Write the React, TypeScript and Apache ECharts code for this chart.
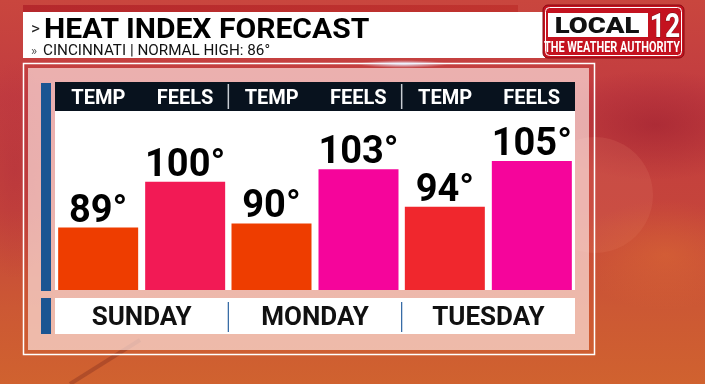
import React, { useEffect, useRef } from 'react';
import * as echarts from 'echarts';

// ---- data ----
const days = ['SUNDAY', 'MONDAY', 'TUESDAY'];
const seriesNames = ['TEMP', 'FEELS'];
const temps = [89, 90, 94];
const feels = [100, 103, 105];
const titleText = 'HEAT INDEX FORECAST';
const subtitleText = 'CINCINNATI | NORMAL HIGH: 86°';
const logoWord = 'LOCAL';
const logoNumber = '12';
const logoTagline = 'THE WEATHER AUTHORITY';
const yMin = 74;
const yMax = 117;

function heatColor(v: number): string {
  if (v < 92) return '#ee3d00';
  if (v < 98) return '#f0272d';
  if (v < 102) return '#f21a55';
  return '#f5059b';
}

// ---- layout ----
const W = 705;
const H = 384;
const GL = 55;
const GW = 520;
const FONT = 'Roboto, "DejaVu Sans", sans-serif';

function buildOption(): any {
  const headerLabels = days.flatMap(() => seriesNames);
  const LG = echarts.graphic.LinearGradient;
  const RG = echarts.graphic.RadialGradient;

  const barLabel = {
    show: true,
    position: 'top',
    distance: 0,
    formatter: '{c}°',
    fontSize: 38,
    fontWeight: 'bold',
    fontFamily: FONT,
    color: '#000',
  };

  const dividerXs = [1, 2].map((k) => GL + (GW * k) / 3);

  const graphics: any[] = [
    // background
    {
      type: 'rect', z: 0, silent: true,
      shape: { x: 0, y: 0, width: W, height: H },
      style: {
        fill: new LG(0, 0, 0, 1, [
          { offset: 0, color: '#c9463e' },
          { offset: 0.25, color: '#c23c40' },
          { offset: 0.55, color: '#c5443b' },
          { offset: 0.8, color: '#cc5834' },
          { offset: 1, color: '#d0622f' },
        ]),
      },
    },
    {
      type: 'ellipse', z: 0, silent: true,
      shape: { cx: 655, cy: 125, rx: 120, ry: 55 },
      style: { fill: new RG(0.5, 0.5, 0.5, [
        { offset: 0, color: 'rgba(150,25,45,0.5)' },
        { offset: 1, color: 'rgba(150,25,45,0)' },
      ]) },
    },
    {
      type: 'circle', z: 0, silent: true,
      shape: { cx: 595, cy: 195, r: 58 },
      style: { fill: 'rgba(228,125,105,0.18)' },
    },
    {
      type: 'ellipse', z: 0, silent: true,
      shape: { cx: 665, cy: 255, rx: 90, ry: 55 },
      style: { fill: new RG(0.5, 0.5, 0.5, [
        { offset: 0, color: 'rgba(225,115,50,0.4)' },
        { offset: 1, color: 'rgba(225,115,50,0)' },
      ]) },
    },
    {
      type: 'ellipse', z: 0, silent: true,
      shape: { cx: 15, cy: 170, rx: 40, ry: 110 },
      style: { fill: new RG(0.5, 0.5, 0.5, [
        { offset: 0, color: 'rgba(170,40,60,0.35)' },
        { offset: 1, color: 'rgba(170,40,60,0)' },
      ]) },
    },
    {
      type: 'line', z: 0, silent: true,
      shape: { x1: 70, y1: 384, x2: 140, y2: 340 },
      style: { stroke: 'rgba(120,40,30,0.35)', lineWidth: 4 },
    },
    // title strip + bar
    {
      type: 'rect', z: 1, silent: true,
      shape: { x: 23, y: 5, width: 495, height: 7 },
      style: { fill: new LG(0, 0, 1, 0, [
        { offset: 0, color: '#b5282c' },
        { offset: 1, color: '#c0342f' },
      ]) },
    },
    {
      type: 'rect', z: 1, silent: true,
      shape: { x: 23, y: 12, width: 522, height: 46 },
      style: { fill: '#ffffff' },
    },
    {
      type: 'text', z: 2, silent: true, x: 31, y: 28,
      style: { text: '>', fontSize: 17, fontWeight: 'normal', fontFamily: FONT, fill: '#222',
        align: 'left', verticalAlign: 'middle', textAlign: 'left', textVerticalAlign: 'middle' },
    },
    {
      type: 'text', z: 2, silent: true, x: 44, y: 28, scaleX: 1.075,
      style: { text: titleText, fontSize: 28, fontWeight: 'bold', fontFamily: FONT, fill: '#000',
        align: 'left', verticalAlign: 'middle', textAlign: 'left', textVerticalAlign: 'middle' },
    },
    {
      type: 'text', z: 2, silent: true, x: 31, y: 50.5,
      style: { text: '»', fontSize: 13, fontFamily: FONT, fill: '#555',
        align: 'left', verticalAlign: 'middle', textAlign: 'left', textVerticalAlign: 'middle' },
    },
    {
      type: 'text', z: 2, silent: true, x: 43, y: 50.5, scaleX: 1.09,
      style: { text: subtitleText, fontSize: 14, fontFamily: FONT, fill: '#111',
        align: 'left', verticalAlign: 'middle', textAlign: 'left', textVerticalAlign: 'middle' },
    },
    // logo
    {
      type: 'rect', z: 2, silent: true,
      shape: { x: 543, y: 5, width: 141, height: 53, r: 5 },
      style: { fill: '#c4121f', stroke: '#8a0a12', lineWidth: 1 },
    },
    {
      type: 'rect', z: 2, silent: true,
      shape: { x: 545.5, y: 7.5, width: 136, height: 48, r: 4 },
      style: { fill: 'none', stroke: '#ffffff', lineWidth: 1 },
    },
    {
      type: 'rect', z: 2, silent: true,
      shape: { x: 548, y: 13, width: 100, height: 24 },
      style: { fill: '#ffffff' },
    },
    {
      type: 'text', z: 3, silent: true, x: 597, y: 25.5, scaleX: 1.25,
      style: { text: logoWord, fontSize: 22, fontWeight: 900, fontFamily: FONT, fill: '#111',
        align: 'center', verticalAlign: 'middle', textAlign: 'center', textVerticalAlign: 'middle' },
    },
    {
      type: 'text', z: 3, silent: true, x: 665, y: 25.5, scaleX: 0.8,
      style: { text: logoNumber, fontSize: 33, fontWeight: 'bold', fontFamily: FONT, fill: '#ffffff',
        stroke: '#6d0b10', lineWidth: 0.8,
        align: 'center', verticalAlign: 'middle', textAlign: 'center', textVerticalAlign: 'middle' },
    },
    {
      type: 'text', z: 3, silent: true, x: 612, y: 47, scaleX: 0.78,
      style: { text: logoTagline, fontSize: 14, fontWeight: 'bold', fontFamily: FONT, fill: '#ffffff',
        align: 'center', verticalAlign: 'middle', textAlign: 'center', textVerticalAlign: 'middle' },
    },
    // panel
    {
      type: 'rect', z: 1, silent: true,
      shape: { x: 28, y: 68, width: 561, height: 282 },
      style: { fill: 'rgba(255,235,232,0.66)' },
    },
    {
      type: 'rect', z: 1, silent: true,
      shape: { x: 23.5, y: 63.5, width: 571, height: 291 },
      style: { fill: 'none', stroke: '#ffffff', lineWidth: 1.5 },
    },
    {
      type: 'ellipse', z: 1, silent: true,
      shape: { cx: 403, cy: 64, rx: 45, ry: 4 },
      style: { fill: new RG(0.5, 0.5, 0.5, [
        { offset: 0, color: 'rgba(235,240,255,0.9)' },
        { offset: 1, color: 'rgba(235,240,255,0)' },
      ]) },
    },
    // blue side bars
    {
      type: 'rect', z: 2, silent: true,
      shape: { x: 41, y: 83, width: 10, height: 208 },
      style: { fill: '#1b5592' },
    },
    {
      type: 'rect', z: 2, silent: true,
      shape: { x: 41, y: 298, width: 10, height: 36 },
      style: { fill: '#1b5592' },
    },
    // dividers
    ...dividerXs.map((x) => ({
      type: 'line', z: 6, silent: true,
      shape: { x1: x, y1: 84, x2: x, y2: 109 },
      style: { stroke: '#c8cdd3', lineWidth: 1.5 },
    })),
    ...dividerXs.map((x) => ({
      type: 'line', z: 6, silent: true,
      shape: { x1: x, y1: 302, x2: x, y2: 332 },
      style: { stroke: '#2a62a0', lineWidth: 1.2 },
    })),
  ];

  return {
    animation: false,
    backgroundColor: 'transparent',
    textStyle: { fontFamily: FONT },
    grid: [
      { left: GL, top: 111, width: GW, height: 179, show: true, backgroundColor: '#ffffff', borderWidth: 0, z: 3 },
      { left: GL, top: 298, width: GW, height: 36, show: true, backgroundColor: '#ffffff', borderWidth: 0, z: 3 },
      { left: GL, top: 82, width: GW, height: 29, show: true, backgroundColor: '#08121e', borderWidth: 0, z: 3 },
    ],
    xAxis: [
      { type: 'category', gridIndex: 0, data: days, show: false },
      {
        type: 'category', gridIndex: 1, data: days, position: 'top', z: 5,
        axisLine: { show: false }, axisTick: { show: false }, splitLine: { show: false },
        axisLabel: {
          inside: true, margin: 18, interval: 0, verticalAlign: 'middle',
          fontSize: 26, fontWeight: 'bold', fontFamily: FONT, color: '#111',
        },
      },
      {
        type: 'category', gridIndex: 2, data: headerLabels, position: 'top', z: 5,
        axisLine: { show: false }, axisTick: { show: false }, splitLine: { show: false },
        axisLabel: {
          inside: true, margin: 14.5, interval: 0, verticalAlign: 'middle',
          fontSize: 20, fontWeight: 'bold', fontFamily: FONT, color: '#ffffff',
        },
      },
    ],
    yAxis: [
      { type: 'value', gridIndex: 0, min: yMin, max: yMax, show: false, splitLine: { show: false } },
      { type: 'value', gridIndex: 1, show: false, splitLine: { show: false } },
      { type: 'value', gridIndex: 2, show: false, splitLine: { show: false } },
    ],
    series: [
      {
        name: seriesNames[0], type: 'bar', xAxisIndex: 0, yAxisIndex: 0, z: 4,
        barWidth: 80, barGap: '8.75%',
        data: temps.map((v) => ({ value: v, itemStyle: { color: heatColor(v) } })),
        label: barLabel,
      },
      {
        name: seriesNames[1], type: 'bar', xAxisIndex: 0, yAxisIndex: 0, z: 4,
        barWidth: 80, barGap: '8.75%',
        data: feels.map((v) => ({ value: v, itemStyle: { color: heatColor(v) } })),
        label: barLabel,
      },
    ],
    graphic: { elements: graphics },
  };
}

export default function App() {
  const ref = useRef<HTMLDivElement>(null);
  useEffect(() => {
    if (!ref.current) return;
    const chart = echarts.init(ref.current, null, { renderer: 'svg' });
    chart.setOption(buildOption());
    return () => chart.dispose();
  }, []);
  return (
    <div
      ref={ref}
      style={{ position: 'fixed', left: 0, top: 0, width: W, height: H }}
    />
  );
}
